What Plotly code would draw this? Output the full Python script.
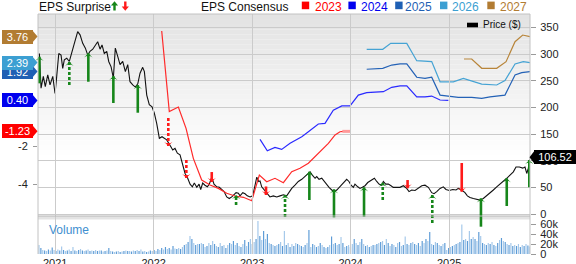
import plotly.graph_objects as go

# ---------------- data ----------------
# time in decimal years
price_t = [2020.839, 2020.856, 2020.879, 2020.899, 2020.924, 2020.947, 2020.975, 2020.998, 2021.015, 2021.036,
           2021.059, 2021.076, 2021.092, 2021.117, 2021.143, 2021.171, 2021.194, 2021.228, 2021.252, 2021.279,
           2021.306, 2021.330, 2021.353, 2021.381, 2021.407, 2021.431, 2021.455, 2021.475, 2021.498, 2021.523,
           2021.543, 2021.567, 2021.590, 2021.610, 2021.635, 2021.658, 2021.685, 2021.712, 2021.736, 2021.759,
           2021.787, 2021.813, 2021.838, 2021.861, 2021.888, 2021.905, 2021.929, 2021.955, 2021.983, 2022.006,
           2022.030, 2022.057, 2022.084, 2022.108, 2022.132, 2022.165, 2022.193, 2022.216, 2022.240, 2022.267,
           2022.294, 2022.318, 2022.341, 2022.369, 2022.392, 2022.412, 2022.437, 2022.460, 2022.477, 2022.497,
           2022.520, 2022.544, 2022.564, 2022.589, 2022.612, 2022.640, 2022.666, 2022.690, 2022.714, 2022.741,
           2022.767, 2022.792, 2022.815, 2022.836, 2022.859, 2022.876, 2022.904, 2022.927, 2022.950, 2022.978,
           2023.005, 2023.028, 2023.046, 2023.066, 2023.079, 2023.096, 2023.120, 2023.147, 2023.180, 2023.214,
           2023.249, 2023.282, 2023.316, 2023.350, 2023.366, 2023.401, 2023.434, 2023.468, 2023.503, 2023.536,
           2023.570, 2023.587, 2023.610, 2023.638, 2023.655, 2023.678, 2023.706, 2023.732, 2023.756, 2023.780,
           2023.807, 2023.833, 2023.858, 2023.881, 2023.909, 2023.935, 2023.959, 2023.982, 2024.003, 2024.027,
           2024.043, 2024.071, 2024.094, 2024.118, 2024.145, 2024.173, 2024.196, 2024.219, 2024.240, 2024.264,
           2024.287, 2024.315, 2024.331, 2024.355, 2024.382, 2024.409, 2024.432, 2024.467, 2024.500, 2024.534,
           2024.568, 2024.592, 2024.619, 2024.653, 2024.686, 2024.721, 2024.754, 2024.788, 2024.822, 2024.846,
           2024.873, 2024.907, 2024.940, 2024.967, 2025.001, 2025.036, 2025.069, 2025.093, 2025.127, 2025.160,
           2025.184, 2025.211, 2025.245, 2025.279, 2025.312, 2025.346, 2025.381, 2025.414, 2025.448, 2025.482,
           2025.516, 2025.549, 2025.584, 2025.617, 2025.651, 2025.678, 2025.712, 2025.746, 2025.769, 2025.787,
           2025.803, 2025.827]
price = [301, 236, 258, 239, 261, 242, 258, 226, 258, 301,
         298, 273, 289, 292, 286, 308, 320, 342, 336, 320,
         311, 298, 305, 309, 317, 323, 309, 317, 301, 305,
         286, 276, 255, 311, 295, 280, 286, 267, 280, 248,
         242, 238, 244, 264, 275, 267, 223, 205, 201, 189,
         170, 142, 145, 142, 139, 129, 120, 123, 114, 111,
         92, 76, 69, 56, 51, 58, 50, 56, 46, 58,
         54, 51, 56, 69, 56, 51, 50, 45, 42, 32,
         29, 32, 36, 40, 39, 34, 40, 38, 34, 32,
         34, 51, 69, 61, 62, 51, 46, 39, 32, 34,
         32, 34, 36, 34, 39, 48, 54, 61, 65, 70,
         75, 79, 73, 67, 70, 65, 67, 61, 54, 50,
         45, 42, 45, 50, 54, 61, 65, 61, 54, 50,
         56, 51, 48, 50, 53, 59, 62, 64, 67, 61,
         56, 54, 61, 56, 56, 53, 50, 50, 50, 53,
         48, 42, 45, 44, 48, 53, 54, 50, 40, 38,
         42, 48, 51, 46, 44, 46, 45, 48, 45, 40,
         34, 31, 29, 28, 26, 29, 34, 39, 45, 51,
         56, 61, 67, 73, 79, 88, 88, 86, 88, 76,
         86, 106.52]

eps_2023_t = [2022.081, 2022.158, 2022.250, 2022.328, 2022.402, 2022.487, 2022.572, 2022.656, 2022.741,
              2022.825, 2022.910, 2022.995, 2023.072, 2023.147, 2023.231, 2023.316, 2023.401, 2023.485,
              2023.570, 2023.638, 2023.706, 2023.773, 2023.841, 2023.891, 2023.925, 2023.994]
eps_2023 = [4.05, -0.19, 0.05, -1.07, -2.65, -3.79, -4.05, -4.23, -4.49,
            -4.63, -4.70, -4.88, -3.53, -3.88, -3.70, -3.93, -3.35, -3.17,
            -2.91, -2.56, -2.21, -1.86, -1.42, -1.25, -1.23, -1.23]
eps_2023_actual_t = [2023.915, 2023.994]
eps_2023_actual = [-1.23, -1.23]

eps_2024_t = [2023.079, 2023.153, 2023.231, 2023.299, 2023.384, 2023.503, 2023.570, 2023.620, 2023.671,
              2023.739, 2023.823, 2023.909, 2023.993, 2024.077, 2024.162, 2024.331, 2024.416, 2024.501,
              2024.569, 2024.670, 2024.754, 2024.822, 2024.907, 2024.991]
eps_2024 = [-1.65, -2.25, -2.07, -2.18, -1.86, -1.51, -1.25, -1.07, -0.84,
            -0.81, -0.11, 0.11, 0.11, 0.68, 0.81, 0.86, 1.09, 1.16,
            1.16, 0.59, 0.59, 0.63, 0.42, 0.40]

eps_2025_t = [2024.162, 2024.325, 2024.416, 2024.501, 2024.569, 2024.670, 2024.754, 2024.822, 2024.907,
              2024.991, 2025.092, 2025.228, 2025.330, 2025.414, 2025.566, 2025.668, 2025.736, 2025.820]
eps_2025 = [2.04, 2.09, 2.26, 2.32, 2.32, 1.62, 1.56, 1.62, 0.68,
            0.63, 0.56, 0.56, 0.51, 0.59, 0.68, 1.74, 1.86, 1.92]

eps_2026_t = [2024.162, 2024.325, 2024.406, 2024.569, 2024.670, 2024.822, 2024.907, 2025.042, 2025.143,
              2025.228, 2025.330, 2025.482, 2025.566, 2025.668, 2025.752, 2025.820]
eps_2026 = [3.09, 3.09, 3.40, 3.40, 2.49, 2.44, 1.38, 1.38, 1.56,
            1.44, 1.26, 1.21, 1.44, 2.32, 2.44, 2.39]

eps_2027_t = [2025.150, 2025.228, 2025.330, 2025.482, 2025.577, 2025.668, 2025.746, 2025.820]
eps_2027 = [2.58, 2.58, 2.09, 2.09, 2.44, 3.49, 3.84, 3.76]

consensus_years = ["2023", "2024", "2025", "2026", "2027"]
latest_eps = [-1.23, 0.40, 1.92, 2.39, 3.76]
last_price = 106.52

# EPS surprises: arrow from tail to tip (price scale); +1 beat, -1 miss
surprise_t = [2020.839, 2021.143, 2021.336, 2021.590, 2021.838, 2022.148, 2022.331, 2022.589, 2022.836,
              2023.140, 2023.333, 2023.580, 2023.830, 2024.135, 2024.325, 2024.577, 2024.828, 2025.127,
              2025.322, 2025.584, 2025.813]
surprise_tip = [294.9, 285.5, 301.3, 258.7, 241.8, 127.5, 67.5, 60.0, 35.6,
                35.6, 35.6, 79.3, 46.3, 50.1, 58.7, 48.2, 35.6, 41.8,
                29.4, 66.9, 101.2]
surprise_tail = [245.0, 241.8, 248.0, 208.1, 189.9, 180.0, 101.2, 78.7, 16.9,
                 51.6, -5.6, 26.2, -6.2, -5.1, 26.2, 63.7, -16.9, 95.6,
                 -23.8, 15.0, 50.1]
surprise_sign = [1, 1, 1, 1, 1, -1, -1, -1, 1,
                 -1, 1, 1, 1, 1, 1, -1, 1, -1,
                 1, 1, 1]
surprise_dashed = [False, True, False, False, False, True, True, False, True,
                   False, True, False, False, False, True, False, True, False,
                   False, False, False]

# weekly volume (thousands)
vol_start = 2020.835
vol_k = [18, 12, 8, 7, 6, 9, 7, 13, 8,
         6, 9, 7, 15, 8, 6, 7, 9, 6, 14, 7, 6, 8,
         10, 7, 6, 7, 9, 6, 7, 6, 8, 6, 7, 7, 5,
         6, 7, 12, 6, 5, 4, 5, 6, 4, 5, 6, 7, 6,
         6, 5, 7, 6, 8, 6, 9, 5, 6, 4, 5, 7, 6,
         8, 6, 10, 8, 12, 9, 14, 10, 12, 9, 16, 11, 10,
         12, 10, 14, 18, 20, 24, 36, 30, 22, 18, 20, 20, 22,
         20, 14, 16, 22, 18, 26, 20, 16, 14, 22, 16, 18, 12,
         18, 22, 20, 26, 18, 22, 16, 14, 20, 28, 16, 24, 30,
         20, 24, 30, 66, 36, 28, 46, 30, 40, 22, 20, 18, 16,
         18, 20, 24, 16, 46, 18, 22, 14, 20, 16, 22, 20, 18,
         16, 14, 18, 22, 48, 14, 20, 18, 14, 16, 22, 18, 14,
         12, 14, 18, 35, 20, 22, 18, 20, 34, 22, 14, 16, 18,
         14, 20, 30, 22, 18, 24, 30, 20, 16, 18, 14, 16, 18,
         18, 20, 22, 24, 26, 18, 30, 22, 16, 20, 18, 14, 22,
         24, 16, 18, 35, 20, 18, 22, 24, 20, 18, 22, 16, 26,
         22, 30, 26, 44, 20, 18, 24, 22, 18, 16, 20, 22, 8,
         12, 14, 16, 18, 20, 22, 24, 59, 28, 30, 26, 46, 30,
         34, 30, 26, 44, 36, 22, 20, 18, 22, 20, 24, 18, 16,
         22, 28, 32, 26, 24, 20, 18, 22, 16, 18, 16, 20, 14,
         18, 16, 20, 17, 15]

year_ticks = [2021, 2022, 2023, 2024, 2025]
price_ticks = [0, 50, 100, 150, 200, 250, 300, 350]
eps_ticks = [-4, -2]
vol_ticks = [0, 20000, 40000, 60000]
vol_tick_text = ["0", "20k", "40k", "60k"]

# ---------------- styling / layout ----------------
FONT = "Liberation Sans, Arial, sans-serif"
W, H = 576, 264
ML, MR, MT, MB = 38, 46, 14, 10
PW, PH = W - ML - MR, H - MT - MB


def fx(p):  # pixel x -> paper
    return (p - ML) / PW


def fy(p):  # pixel y -> paper
    return (H - MB - p) / PH


cons_colors = ["#ff2a2a", "#2a2aff", "#2462b6", "#45a3d4", "#b8853a"]
badge_colors = ["#ff0000", "#0000ee", "#1f5fb4", "#3c9fd2", "#b27c32"]
GREEN = "#16861a"
RED = "#ff1a1a"

main_dom = [fy(216), 1.0]
vol_dom = [0.0, fy(219)]
price_range = [-3.75, 375.0]
eps_range = [-5.684, 4.947]
upp = (price_range[1] - price_range[0]) / (main_dom[1] - main_dom[0])
full_range = [price_range[0] - main_dom[0] * upp, price_range[1] + (1 - main_dom[1]) * upp]

fig = go.Figure()

# volume
vol_t = [vol_start + i / 52.18 for i in range(len(vol_k))]
vol = [v * 1000 for v in vol_k]
vol_cols = ["#a4c8ea" if i % 2 == 0 else "#5c9bd6" for i in range(len(vol))]
fig.add_trace(go.Bar(x=vol_t, y=vol, xaxis="x", yaxis="y3", marker=dict(color=vol_cols, line=dict(width=0)),
                     width=0.62 / 52.18))

# consensus lines
cons_t = [eps_2023_t, eps_2024_t, eps_2025_t, eps_2026_t, eps_2027_t]
cons_v = [eps_2023, eps_2024, eps_2025, eps_2026, eps_2027]
for t, v, c in zip(cons_t, cons_v, cons_colors):
    fig.add_trace(go.Scatter(x=t, y=v, mode="lines", line=dict(color=c, width=1.2), xaxis="x", yaxis="y2"))
fig.add_trace(go.Scatter(x=eps_2023_actual_t, y=eps_2023_actual, mode="lines",
                         line=dict(color="#ff9a9a", width=3), xaxis="x", yaxis="y2"))

# price
fig.add_trace(go.Scatter(x=price_t, y=price, mode="lines", line=dict(color="#111111", width=1.1),
                         xaxis="x", yaxis="y"))

# surprise arrows (stems + heads) on a full-height price-scaled axis
for sign, col in [(1, GREEN), (-1, RED)]:
    for dashed in (False, True):
        xs, ys = [], []
        for t, tip, tail, s, d in zip(surprise_t, surprise_tip, surprise_tail, surprise_sign, surprise_dashed):
            if s == sign and d == dashed:
                xs += [t, t, None]
                ys += [tail, tip, None]
        if xs:
            fig.add_trace(go.Scatter(x=xs, y=ys, mode="lines", xaxis="x", yaxis="y4",
                                     line=dict(color=col, width=2.6, dash="3px,2px" if dashed else "solid")))
fig.add_trace(go.Scatter(
    x=surprise_t, y=surprise_tip, mode="markers", xaxis="x", yaxis="y4", cliponaxis=False,
    marker=dict(symbol="arrow-wide", size=6,
                angle=[0 if s > 0 else 180 for s in surprise_sign],
                color=[GREEN if s > 0 else RED for s in surprise_sign], line=dict(width=0))))

# ---------------- shapes ----------------
shapes = []
nb = 40
top_px, bot_px = 14, 216
for i in range(nb):
    y0 = top_px + i * (bot_px - top_px) / nb
    y1 = top_px + (i + 1) * (bot_px - top_px) / nb
    f = (i + 0.5) / nb
    g = round(226 + (255 - 226) * min(1.0, f / 0.72))
    shapes.append(dict(type="rect", xref="paper", yref="paper", x0=0, x1=1, y0=fy(y1), y1=fy(y0),
                       fillcolor=f"rgb({g},{g},{g})", line=dict(width=0), layer="below"))
# separator between panels
shapes.append(dict(type="rect", xref="paper", yref="paper", x0=0, x1=1, y0=fy(219.5), y1=fy(216),
                   fillcolor="#e3e3e3", line=dict(width=0), layer="below"))
border = "#c2c2c2"
shapes += [
    dict(type="line", xref="paper", yref="paper", x0=0, x1=1, y0=1, y1=1, line=dict(color=border, width=1)),
    dict(type="line", xref="paper", yref="paper", x0=0, x1=0, y0=0, y1=1, line=dict(color=border, width=1)),
    dict(type="line", xref="paper", yref="paper", x0=1, x1=1, y0=0, y1=1, line=dict(color=border, width=1)),
    dict(type="line", xref="paper", yref="paper", x0=0, x1=1, y0=fy(216), y1=fy(216),
         line=dict(color="#b8b8b8", width=1)),
]

annotations = []
# left EPS badges (draw 2026 over 2025)
order = [4, 2, 3, 1, 0]
for i in order:
    val, col = latest_eps[i], badge_colors[i]
    shapes.append(dict(type="path", xref="paper", yref="y2", xsizemode="pixel", ysizemode="pixel",
                       xanchor=0, yanchor=val, path="M -6,6.5 L -0.5,0 L -6,-6.5 Z",
                       fillcolor=col, line=dict(width=0), layer="above"))
    annotations.append(dict(xref="paper", yref="y2", x=0, y=val, xanchor="right", yanchor="middle", xshift=-5,
                            text=f"{val:.2f}", showarrow=False, bgcolor=col, borderwidth=0, borderpad=1,
                            width=29, height=12, align="center",
                            font=dict(color="white", size=11, family=FONT)))
# last price badge
shapes.append(dict(type="path", xref="paper", yref="y", xsizemode="pixel", ysizemode="pixel",
                   xanchor=1, yanchor=last_price, path="M -0.5,0 L 4.5,6.5 L 4.5,-6.5 Z",
                   fillcolor="#000000", line=dict(width=0), layer="above"))
annotations.append(dict(xref="paper", yref="y", x=1, y=last_price, xanchor="left", yanchor="middle", xshift=4,
                        text=f"{last_price:.2f}", showarrow=False, bgcolor="#000000", borderwidth=0, borderpad=1,
                        width=40, height=12, align="center", font=dict(color="white", size=11, family=FONT)))

# header legend
annotations.append(dict(xref="paper", yref="paper", x=fx(36.5), y=fy(6.5), xanchor="left", yanchor="middle",
                        text="EPS Surprise", showarrow=False, font=dict(color="#111", size=12, family=FONT)))
shapes.append(dict(type="path", xref="paper", yref="paper", xsizemode="pixel", ysizemode="pixel",
                   xanchor=fx(114.5), yanchor=fy(6), fillcolor=GREEN, line=dict(width=0),
                   path="M 0,4.8 L 3.6,0.6 L 1.2,0.6 L 1.2,-4.6 L -1.2,-4.6 L -1.2,0.6 L -3.6,0.6 Z"))
shapes.append(dict(type="path", xref="paper", yref="paper", xsizemode="pixel", ysizemode="pixel",
                   xanchor=fx(125.3), yanchor=fy(6), fillcolor=RED, line=dict(width=0),
                   path="M 0,-4.8 L 3.6,-0.6 L 1.2,-0.6 L 1.2,4.6 L -1.2,4.6 L -1.2,-0.6 L -3.6,-0.6 Z"))
annotations.append(dict(xref="paper", yref="paper", x=fx(198.5), y=fy(6.5), xanchor="left", yanchor="middle",
                        text="EPS Consensus", showarrow=False, font=dict(color="#111", size=12, family=FONT)))
sq_left = [301.8, 348.4, 395.2, 440.0, 487.3]
txt_left = [312.5, 358.5, 402.5, 449.5, 497.5]
for yr, col, sx, tx in zip(consensus_years, badge_colors, sq_left, txt_left):
    shapes.append(dict(type="rect", xref="paper", yref="paper", x0=fx(sx), x1=fx(sx + 7.4),
                       y0=fy(9.2), y1=fy(1.6), fillcolor=col, line=dict(width=0)))
    annotations.append(dict(xref="paper", yref="paper", x=fx(tx), y=fy(6.5), xanchor="left", yanchor="middle",
                            text=yr, showarrow=False, font=dict(color=col, size=12, family=FONT)))

# price legend inside plot
shapes.append(dict(type="rect", xref="paper", yref="paper", x0=fx(467), x1=fx(478), y0=fy(27.3), y1=fy(22.7),
                   fillcolor="#000000", line=dict(width=0)))
annotations.append(dict(xref="paper", yref="paper", x=fx(480.5), y=fy(25), xanchor="left", yanchor="middle",
                        text="Price ($)", showarrow=False, font=dict(color="#111", size=10, family=FONT)))
# volume label
annotations.append(dict(xref="paper", yref="paper", x=fx(46.5), y=fy(229.5), xanchor="left", yanchor="middle",
                        text="Volume", showarrow=False, font=dict(color="#3f8fd0", size=12, family=FONT)))

tickfont = dict(size=11, color="#222222", family=FONT)
GRID = "#cbcbcb"
CLEAR = "rgba(0,0,0,0)"
fig.update_layout(
    width=W, height=H, margin=dict(l=ML, r=MR, t=MT, b=MB, pad=0, autoexpand=False),
    paper_bgcolor="white", plot_bgcolor=CLEAR, showlegend=False, hovermode=False,
    font=dict(family=FONT, size=11, color="#222"),
    bargap=0.3,
    xaxis=dict(domain=[0, 1], range=[2020.825, 2025.82], anchor="y3", tickvals=year_ticks,
               ticktext=[str(y) for y in year_ticks], showgrid=True, gridcolor=GRID, gridwidth=1,
               zeroline=False, showline=False, ticks="", tickfont=tickfont, ticklabelstandoff=1,
               automargin=False),
    yaxis=dict(domain=main_dom, range=price_range, side="right", anchor="x", tickvals=price_ticks,
               ticks="outside", ticklen=5, tickcolor="#9a9a9a", showgrid=True, gridcolor=GRID,
               zeroline=False, showline=False, tickfont=tickfont, ticklabelstandoff=2, automargin=False),
    yaxis2=dict(overlaying="y", side="left", anchor="x", range=eps_range, tickvals=eps_ticks,
                ticktext=[str(v) for v in eps_ticks], ticks="outside", ticklen=4, tickcolor="#9a9a9a",
                showgrid=False, zeroline=False, showline=False, tickfont=tickfont, ticklabelstandoff=3,
                automargin=False),
    yaxis3=dict(domain=vol_dom, range=[0, 70000], side="right", anchor="x", tickvals=vol_ticks,
                ticktext=vol_tick_text, ticks="outside", ticklen=5, tickcolor="#9a9a9a", showgrid=False,
                zeroline=False, showline=False, tickfont=tickfont, ticklabelstandoff=2, automargin=False),
    yaxis4=dict(domain=[0, 1], range=full_range, anchor="x", visible=False, showgrid=False, zeroline=False,
                automargin=False),
    shapes=shapes, annotations=annotations,
)

fig.write_html("out.html", include_plotlyjs=True, config={"displayModeBar": False, "staticPlot": True})
